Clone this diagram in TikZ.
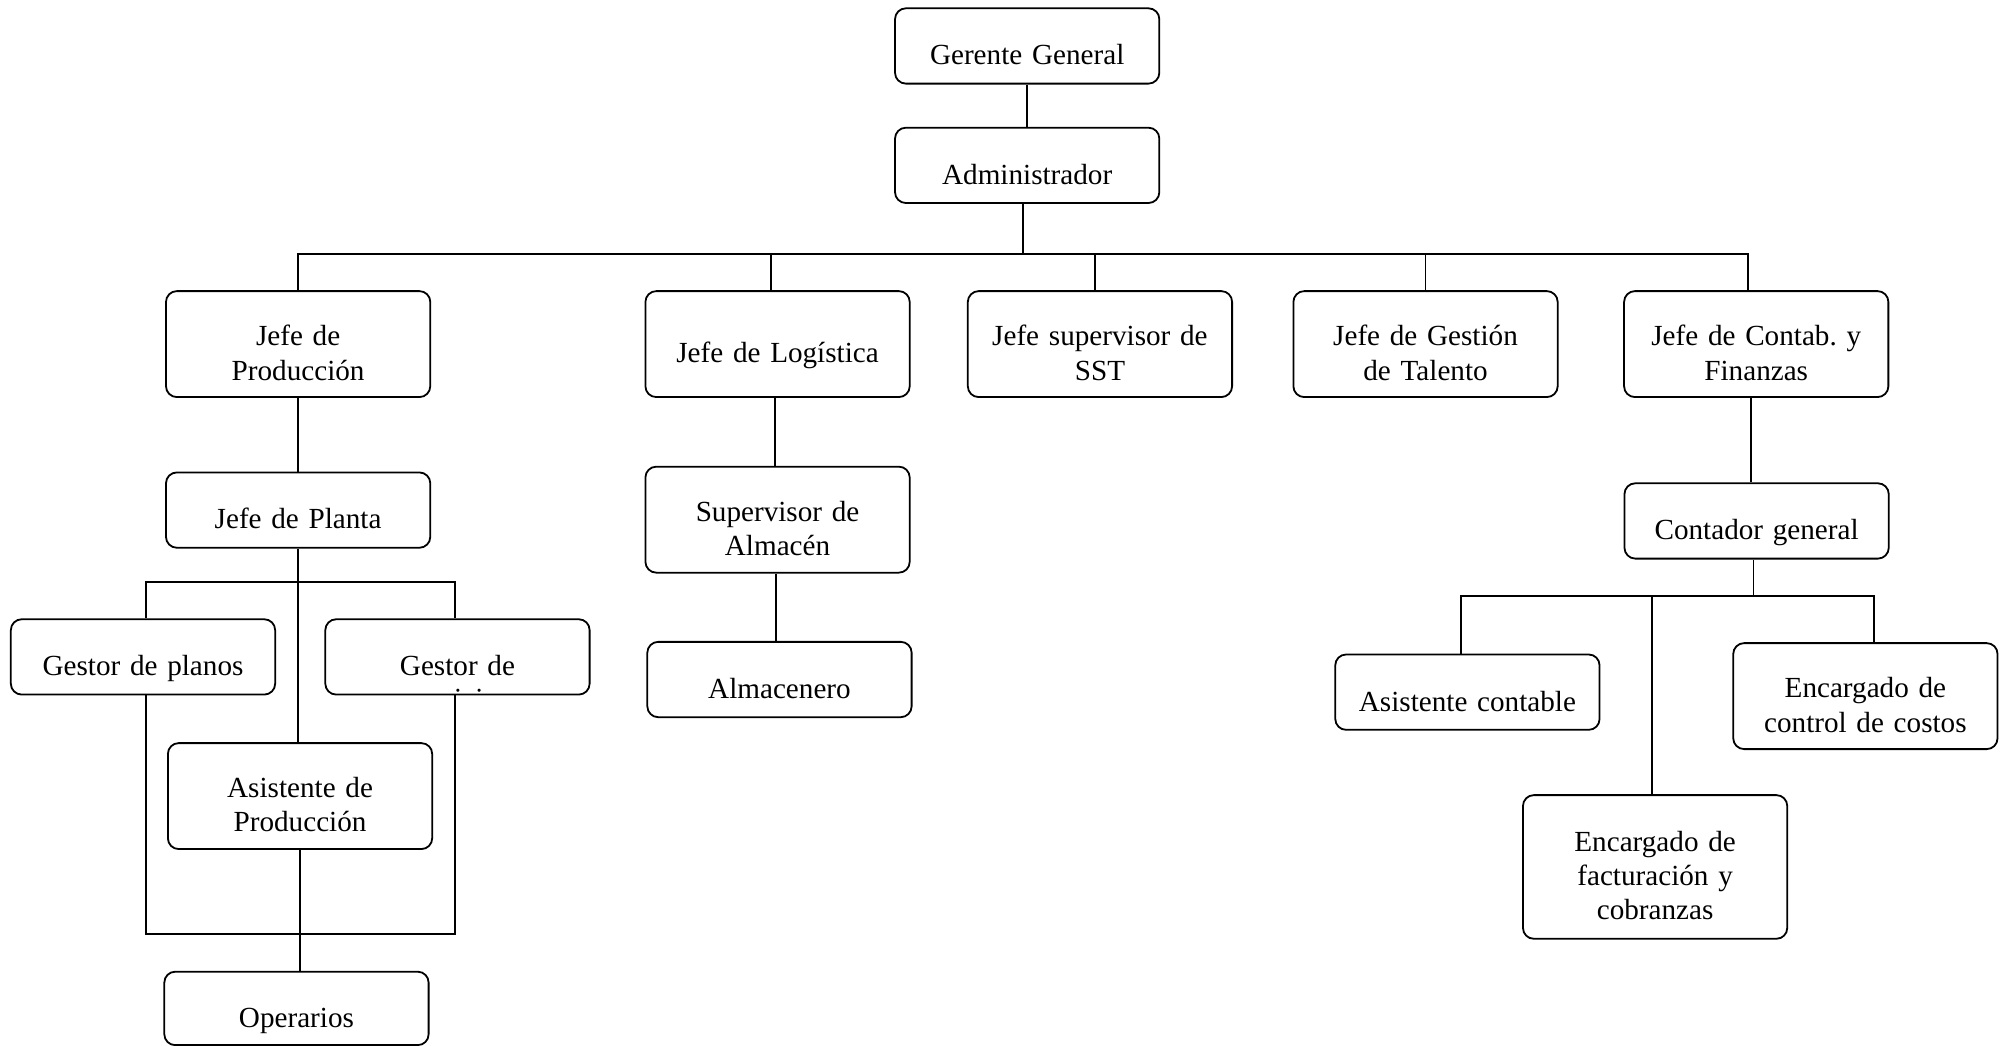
\documentclass[tikz,border=0pt]{standalone}
\usepackage{fontspec}
\setmainfont{Liberation Serif}
\frenchspacing
\begin{document}
\begin{tikzpicture}[x=0.2mm,y=-0.2mm,line width=0.8pt,
    cargo/.style={draw,fill=white,rounded corners=1.7mm,align=center,inner sep=0pt,
      text width=41.4mm,minimum height=11.8mm,font=\fontsize{13}{15.2}\selectfont,
      execute at begin node={\rule{0pt}{20.8pt}},
      execute at end node={\rule[-4pt]{0pt}{4pt}}},
    cargodos/.style={cargo,minimum height=16.6mm}]
\useasboundingbox (0,0) rectangle (1568,819);
\node[cargo] (gerente) at (804.5,36) {Gerente General};
\node[cargo] (admin) at (804.5,129.5) {Administrador};
\node[cargodos] (jprod) at (233.5,269.5) {Jefe de\\Producción};
\node[cargodos] (jlog) at (609,269.5) {Jefe de Logística};
\node[cargodos] (jsst) at (861.5,269.5) {Jefe supervisor de\\SST};
\node[cargodos] (jtal) at (1116.5,269.5) {Jefe de Gestión\\de Talento};
\node[cargodos] (jcont) at (1375.5,269.5) {Jefe de Contab. y\\Finanzas};
\node[cargo] (planta) at (233.5,399.5) {Jefe de Planta};
\node[cargo] (gplanos) at (112,514.5) {Gestor de planos};
\node[cargo] (gserv) at (358.3,514.5) {Gestor de};
\node[cargodos] (asist) at (235,623.5) {Asistente de\\Producción};
\node[cargo,minimum height=11.5mm] (oper) at (232.2,789.8) {Operarios};
\node[cargodos] (superv) at (609,407) {Supervisor de\\Almacén};
\node[cargo] (almac) at (610.5,532.2) {Almacenero};
\node[cargo] (contador) at (1375.8,408) {Contador general};
\node[cargo] (asistc) at (1149.3,542.1) {Asistente contable};
\node[cargodos] (ccostos) at (1461,545.2) {Encargado de\\control de costos};
\node[cargo,minimum height=22.5mm] (factur) at (1296.3,679) {Encargado de\\facturación y\\cobranzas};
\begin{scope}
  \clip[rounded corners=1.5mm] ([shift={(0.4pt,0.4pt)}]gserv.south west) rectangle ([shift={(-0.4pt,-0.4pt)}]gserv.north east);
  \node[anchor=base,inner sep=0pt,font=\fontsize{13}{15.2}\selectfont] (gservb) at ([yshift=-5.1mm]gserv.base) {servicios};
\end{scope}
\coordinate (bt) at (801,199);
\coordinate (bp) at (233.5,455.6);
\coordinate (bq) at (235,731.5);
\coordinate (bc) at (1373.4,466.8);
\draw (gerente) -- (admin);
\draw ([xshift=-0.7mm]admin.south) -- ([xshift=-0.7mm]admin.south |- bt);
\draw (jprod.north) |- (bt) -| ([xshift=-1.3mm]jcont.north);
\draw ([xshift=-1mm]jlog.north) -- ([xshift=-1mm]jlog.north |- bt);
\draw ([xshift=-0.8mm]jsst.north) -- ([xshift=-0.8mm]jsst.north |- bt);
\draw (jtal.north) -- (jtal.north |- bt);
\draw (jprod) -- (planta);
\draw (planta.south) -- (planta.south |- asist.north);
\draw ([xshift=0.5mm]gplanos.north) |- (bp) -| ([xshift=-0.4mm]gserv.north);
\draw ([xshift=0.5mm]gplanos.south) |- (bq) -| ([xshift=-0.4mm]gserv.south);
\draw (asist.south) -- (asist.south |- oper.north);
\draw ([xshift=-0.4mm]jlog.south) -- ([xshift=-0.4mm]jlog.south |- superv.north);
\draw ([xshift=-0.2mm]superv.south) -- ([xshift=-0.2mm]superv.south |- almac.north);
\draw ([xshift=-0.8mm]jcont.south) -- ([xshift=-0.8mm]jcont.south |- contador.north);
\draw ([xshift=-0.5mm]contador.south) -- ([xshift=-0.5mm]contador.south |- bc);
\draw ([xshift=-1mm]asistc.north) |- (bc) -| ([xshift=1.3mm]ccostos.north);
\draw ([xshift=-0.5mm]factur.north) -- ([xshift=-0.5mm]factur.north |- bc);
\end{tikzpicture}
\end{document}
